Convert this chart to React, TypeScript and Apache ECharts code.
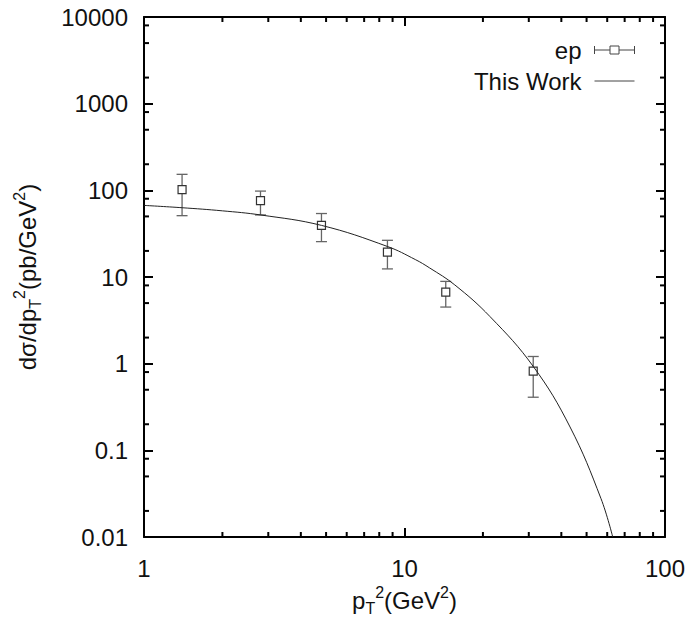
import React, { useEffect, useRef } from "react";
import * as echarts from "echarts";

const FONT = "'Liberation Sans', Arial, Helvetica, sans-serif";

// tick labels
const xTickLabels = ["1", "10", "100"];
const yTickLabels = ["0.01", "0.1", "1", "10", "100", "1000", "10000"];
const xMinorTicks = [2, 3, 4, 5, 6, 7, 8, 9, 20, 30, 40, 50, 60, 70, 80, 90];
const yMinorTicks = [
  0.02, 0.05, 0.08, 0.2, 0.5, 0.8, 2, 5, 8, 20, 50, 80, 200, 500, 800, 2000, 5000, 8000,
];

// "ep" data points with error bars
const epX = [1.4, 2.8, 4.8, 8.6, 14.4, 31.2];
const epY = [102, 76, 39.4, 19.4, 6.7, 0.82];
const epLow = [51, 52, 25.6, 12.4, 4.5, 0.41];
const epHigh = [153, 98, 54, 26.5, 8.9, 1.21];

// "This Work" curve
const curveX = [1, 1.4, 2, 2.8, 4.8, 8.6, 11, 12.5, 15.6, 21.3, 31.2, 43.2, 56.8, 63];
const curveY = [67, 63, 58, 52, 39.4, 22.5, 15.9, 12.7, 8.1, 3.49, 0.93, 0.186, 0.0277, 0.01];

const labelFor = (labels: string[]) => (v: number) => {
  const s = labels.find((l) => Math.abs(parseFloat(l) - v) / v < 1e-6);
  return s ?? "";
};

const richName = {
  n: { fontSize: 24, fontFamily: FONT, color: "#111", lineHeight: 32 },
  sub: { fontSize: 16, fontFamily: FONT, color: "#111", lineHeight: 14, verticalAlign: "bottom" },
  sup: { fontSize: 16, fontFamily: FONT, color: "#111", lineHeight: 14, verticalAlign: "top" },
};

// tick marks: [x, y, kind] kind 0 = x minor tick, 1 = y minor tick
const tickData = [
  ...xMinorTicks.map((v) => [v, 1, 0]),
  ...yMinorTicks.map((v) => [1, v, 1]),
];

export default function App() {
  const ref = useRef<HTMLDivElement>(null);
  useEffect(() => {
    if (!ref.current) return;
    const chart = echarts.init(ref.current, null, { renderer: "svg" });
    const axisLine = { show: true, lineStyle: { color: "#000", width: 2 } };
    const axisTick = { show: true, inside: true, length: 9, lineStyle: { color: "#000", width: 2 } };
    const labelStyle = { fontSize: 24, fontFamily: FONT, color: "#111" };
    const option: any = {
      animation: false,
      backgroundColor: "#fff",
      grid: { left: 144, right: 20, top: 17, bottom: 84, containLabel: false, outerBoundsMode: "none" },
      legend: {
        data: [
          {
            name: "ep",
            icon: "path://M0,5L15.5,5M24.5,5L40,5M0,1L0,9M40,1L40,9M15.5,1L24.5,1L24.5,9L15.5,9Z",
            itemStyle: { color: "rgba(0,0,0,0)", borderColor: "#444", borderWidth: 1 },
          },
          {
            name: "This Work",
            itemStyle: { color: "rgba(0,0,0,0)", borderColor: "rgba(0,0,0,0)", borderWidth: 0, opacity: 0 },
            lineStyle: { color: "#444", width: 1 },
          },
        ],
        orient: "vertical",
        align: "right",
        right: 45,
        top: 33,
        itemWidth: 40,
        itemHeight: 10,
        itemGap: 7,
        selectedMode: false,
        textStyle: { ...labelStyle, padding: [0, 8, 0, 0] },
      },
      xAxis: [
        {
          type: "log",
          logBase: 10,
          min: 1,
          max: 100,
          position: "bottom",
          axisLine,
          axisTick,
          splitLine: { show: false },
          axisLabel: { ...labelStyle, margin: 19, formatter: labelFor(xTickLabels) },
          name: "{n|p}{sub|T}{sup|2}{n|(GeV}{sup|2}{n|)}",
          nameLocation: "middle",
          nameGap: 42,
          nameTextStyle: { rich: richName },
        },
        {
          type: "log",
          logBase: 10,
          min: 1,
          max: 100,
          position: "top",
          axisLine,
          axisTick,
          splitLine: { show: false },
          axisLabel: { show: false },
        },
      ],
      yAxis: [
        {
          type: "log",
          logBase: 10,
          min: 0.01,
          max: 10000,
          position: "left",
          axisLine,
          axisTick,
          splitLine: { show: false },
          axisLabel: { ...labelStyle, margin: 16, formatter: labelFor(yTickLabels) },
          name: "{n|dσ/dp}{sub|T}{sup|2}{n|(pb/GeV}{sup|2}{n|)}",
          nameLocation: "middle",
          nameRotate: 90,
          nameGap: 101,
          nameTextStyle: { rich: richName },
        },
        {
          type: "log",
          logBase: 10,
          min: 0.01,
          max: 10000,
          position: "right",
          axisLine,
          axisTick,
          splitLine: { show: false },
          axisLabel: { show: false },
        },
      ],
      series: [
        {
          name: "minorTicks",
          type: "custom",
          xAxisIndex: 0,
          yAxisIndex: 0,
          z: 5,
          clip: false,
          itemStyle: { color: "#000" },
          encode: { x: 0, y: 1 },
          data: tickData,
          renderItem: (params: any, api: any) => {
            const cs = params.coordSys;
            const p = api.coord([api.value(0), api.value(1)]);
            const kind = api.value(2);
            const st = { stroke: "#000", lineWidth: 2, fill: "none" };
            const b = cs.y + cs.height;
            const r = cs.x + cs.width;
            const children =
              kind === 0
                ? [
                    { type: "line", shape: { x1: p[0], y1: b, x2: p[0], y2: b - 5 }, style: st },
                    { type: "line", shape: { x1: p[0], y1: cs.y, x2: p[0], y2: cs.y + 5 }, style: st },
                  ]
                : [
                    { type: "line", shape: { x1: cs.x, y1: p[1], x2: cs.x + 5, y2: p[1] }, style: st },
                    { type: "line", shape: { x1: r, y1: p[1], x2: r - 5, y2: p[1] }, style: st },
                  ];
            return { type: "group", children };
          },
        },
        {
          name: "ep",
          type: "custom",
          xAxisIndex: 0,
          yAxisIndex: 0,
          z: 2,
          itemStyle: { color: "#444" },
          encode: { x: 0, y: [1, 2, 3] },
          data: epX.map((x, i) => [x, epY[i], epLow[i], epHigh[i]]),
          renderItem: (params: any, api: any) => {
            const x = api.value(0);
            const p = api.coord([x, api.value(1)]);
            const pl = api.coord([x, api.value(2)]);
            const ph = api.coord([x, api.value(3)]);
            const bar = { stroke: "#666", lineWidth: 1.3 };
            const cap = 5.5;
            return {
              type: "group",
              children: [
                { type: "line", shape: { x1: p[0], y1: pl[1], x2: p[0], y2: ph[1] }, style: bar },
                { type: "line", shape: { x1: p[0] - cap, y1: pl[1], x2: p[0] + cap, y2: pl[1] }, style: bar },
                { type: "line", shape: { x1: p[0] - cap, y1: ph[1], x2: p[0] + cap, y2: ph[1] }, style: bar },
                {
                  type: "rect",
                  shape: { x: p[0] - 4, y: p[1] - 4, width: 8, height: 8 },
                  style: { fill: "#fff", stroke: "#333", lineWidth: 1.2 },
                },
              ],
            };
          },
        },
        {
          name: "This Work",
          type: "line",
          xAxisIndex: 0,
          yAxisIndex: 0,
          z: 3,
          smooth: 0.4,
          symbol: "none",
          lineStyle: { color: "#222", width: 1 },
          itemStyle: { color: "#222" },
          data: curveX.map((x, i) => [x, curveY[i]]),
        },
      ],
    };
    chart.setOption(option);
    return () => chart.dispose();
  }, []);
  return <div ref={ref} style={{ width: 685, height: 621, position: "absolute", left: 0, top: 0 }} />;
}
